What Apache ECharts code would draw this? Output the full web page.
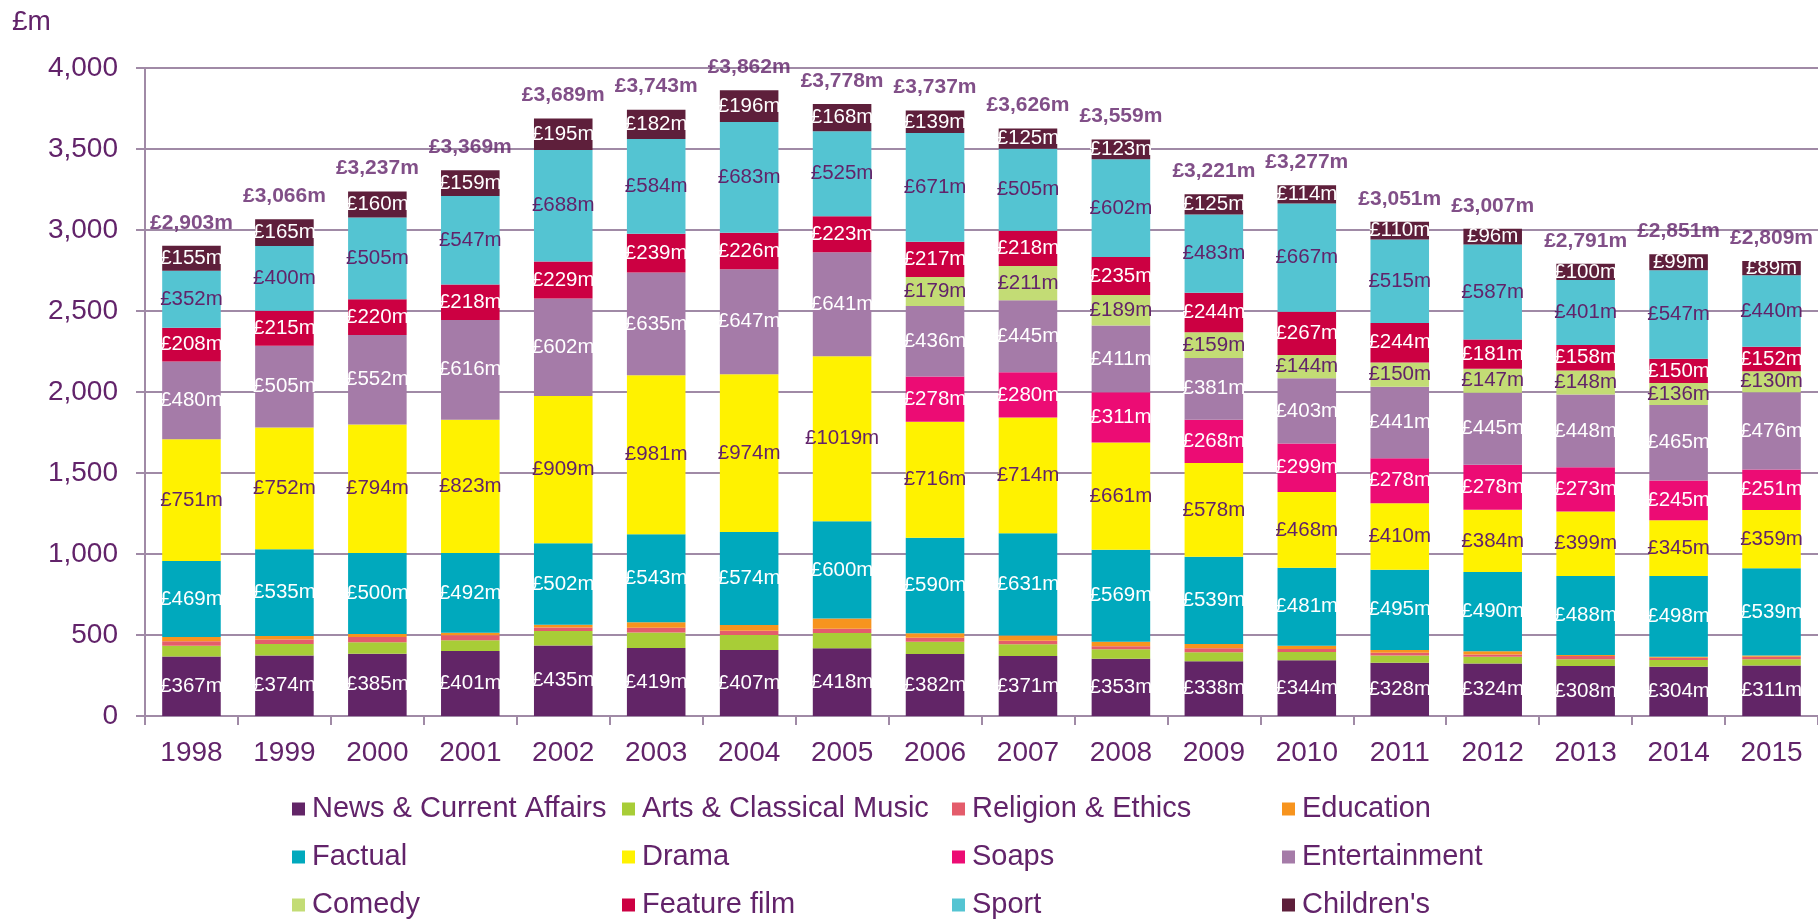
<!DOCTYPE html>
<html>
<head>
<meta charset="utf-8">
<script src="https://cdn.jsdelivr.net/npm/echarts@6/dist/echarts.min.js"></script>
<style>
html,body{margin:0;padding:0;background:#fff;}
#chart{width:1818px;height:920px;}
</style>
</head>
<body>
<div id="chart"></div>
<script>
var years = ['1998','1999','2000','2001','2002','2003','2004','2005','2006','2007','2008','2009','2010','2011','2012','2013','2014','2015'];
var news = [367,374,385,401,435,419,407,418,382,371,353,338,344,328,324,308,304,311];
var arts = [66,71,71,67,90,96,93,94,76,72,59,55,51,46,41,43,42,40];
var religion = [29,27,31,30,22,29,27,26,25,21,18,25,19,17,14,19,14,14];
var education = [26,22,19,16,17,35,35,64,28,33,28,26,20,17,20,6,6,8];
var factual = [469,535,500,492,502,543,574,600,590,631,569,539,481,495,490,488,498,539];
var drama = [751,752,794,823,909,981,974,1019,716,714,661,578,468,410,384,399,345,359];
var soaps = [0,0,0,0,0,0,0,0,278,280,311,268,299,278,278,273,245,251];
var entertainment = [480,505,552,616,602,635,647,641,436,445,411,381,403,441,445,448,465,476];
var comedy = [0,0,0,0,0,0,0,0,179,211,189,159,144,150,147,148,136,130];
var featureFilm = [208,215,220,218,229,239,226,223,217,218,235,244,267,244,181,158,150,152];
var sport = [352,400,505,547,688,584,683,525,671,505,602,483,667,515,587,401,547,440];
var childrens = [155,165,160,159,195,182,196,168,139,125,123,125,114,110,96,100,99,89];
var totals = [2903,3066,3237,3369,3689,3743,3862,3778,3737,3626,3559,3221,3277,3051,3007,2791,2851,2809];

var PURPLE = '#62236a';
var GRIDC = '#a08aa6';
var FONT = '"Liberation Sans", Arial, sans-serif';

var seriesDefs = [
  {name:'News & Current Affairs', data:news, color:'#622567', label:'#ffffff'},
  {name:'Arts & Classical Music', data:arts, color:'#a8cd37', label:null},
  {name:'Religion & Ethics', data:religion, color:'#e45c6b', label:null},
  {name:'Education', data:education, color:'#f7941e', label:null},
  {name:'Factual', data:factual, color:'#00a9bd', label:'#ffffff'},
  {name:'Drama', data:drama, color:'#fff200', label:PURPLE},
  {name:'Soaps', data:soaps, color:'#ec0c74', label:'#ffffff'},
  {name:'Entertainment', data:entertainment, color:'#a57ba8', label:'#ffffff'},
  {name:'Comedy', data:comedy, color:'#c3dc75', label:PURPLE},
  {name:'Feature film', data:featureFilm, color:'#cc0042', label:'#ffffff'},
  {name:'Sport', data:sport, color:'#54c4d2', label:PURPLE},
  {name:"Children's", data:childrens, color:'#5e1f3b', label:'#ffffff'}
];

var series = seriesDefs.map(function(s){
  return {
    name: s.name,
    type: 'bar',
    stack: 'total',
    barWidth: '63%',
    data: s.data,
    itemStyle: {color: s.color},
    label: {
      show: !!s.label,
      position: 'inside',
      color: s.label || '#fff',
      fontFamily: FONT,
      fontSize: 20.5,
      formatter: function(p){ return p.value ? '£' + p.value + 'm' : ''; }
    }
  };
});

series.push({
  name: 'Total',
  type: 'scatter',
  data: totals,
  symbolSize: 1,
  itemStyle: {color: 'rgba(0,0,0,0)'},
  z: 10,
  label: {
    show: true,
    position: 'top',
    distance: 12,
    color: PURPLE,
    fontFamily: FONT,
    fontSize: 21,
    fontWeight: 'bold',
    formatter: function(p){ return '£' + p.value.toLocaleString('en-GB') + 'm'; }
  }
});

var chart = echarts.init(document.getElementById('chart'));
chart.setOption({
  animation: false,
  backgroundColor: '#ffffff',
  textStyle: {fontFamily: FONT},
  grid: {left: 145, right: 0, top: 68, bottom: 204},
  graphic: [{
    type: 'text', left: 12, top: 8,
    style: {text: '£m', fill: PURPLE, font: '28px ' + FONT}
  }],
  legend: {
    data: seriesDefs.map(function(s){return s.name;}),
    left: 287, top: 787, width: 1360,
    itemWidth: 13, itemHeight: 13, itemGap: 14,
    icon: 'rect',
    textStyle: {color: PURPLE, fontSize: 29, fontFamily: FONT, width: 296, lineHeight: 34, padding:[0,0,0,2]}
  },
  xAxis: {
    type: 'category',
    data: years,
    axisLine: {lineStyle: {color: GRIDC, width: 2}},
    axisTick: {show: true, length: 9, lineStyle: {color: GRIDC, width: 2}},
    axisLabel: {color: PURPLE, fontSize: 28, fontFamily: FONT, margin: 23}
  },
  yAxis: {
    type: 'value',
    min: 0, max: 4000, interval: 500,
    axisLine: {show: true, lineStyle: {color: GRIDC, width: 2}},
    axisTick: {show: true, length: 9, lineStyle: {color: GRIDC, width: 2}},
    splitLine: {lineStyle: {color: GRIDC, width: 2}},
    axisLabel: {
      color: PURPLE, fontSize: 28, fontFamily: FONT, margin: 27,
      formatter: function(v){ return v.toLocaleString('en-GB'); }
    }
  },
  series: series
});
</script>
</body>
</html>
